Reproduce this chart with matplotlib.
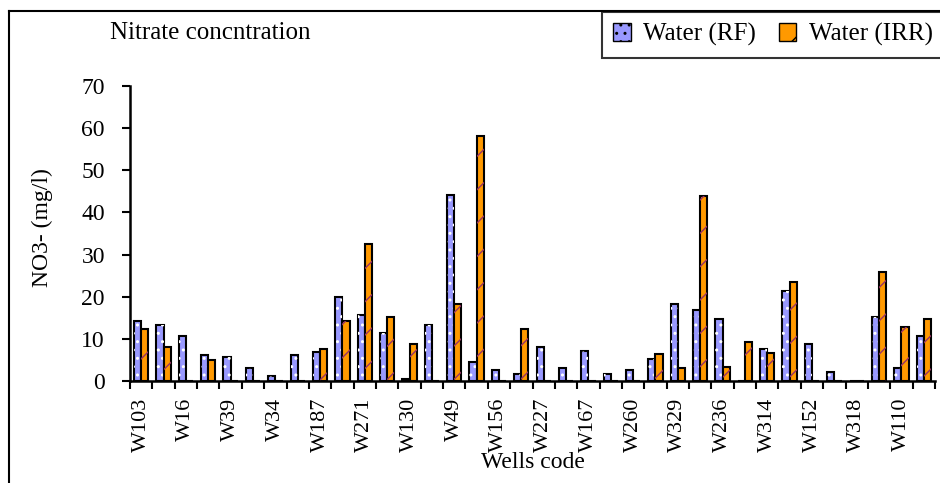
import numpy as np
import matplotlib
matplotlib.use("Agg")
import matplotlib.pyplot as plt
from matplotlib.lines import Line2D
from matplotlib.patches import Patch

# values (NO3- in mg/l), 36 wells, every second one labelled
wells = ["W103", "W16", "W39", "W34", "W187", "W271", "W130", "W49", "W156",
         "W227", "W167", "W260", "W329", "W236", "W314", "W152", "W318", "W110"]
water_rf = [14.2, 13.3, 10.7, 6.2, 5.6, 3.0, 1.2, 6.1, 6.9, 20.0, 15.6, 11.5,
            0.4, 13.3, 44.2, 4.4, 2.6, 1.7, 8.0, 3.1, 7.1, 1.7, 2.6, 5.3,
            18.2, 16.8, 14.6, 0.0, 7.5, 21.3, 8.8, 2.1, 0.0, 15.1, 3.0, 10.7]
water_irr = [12.3, 8.0, 0.0, 5.1, 0.0, 0.0, 0.0, 0.0, 7.5, 14.2, 32.6, 15.2,
             8.8, 0.0, 18.2, 58.1, 0.0, 12.4, 0.0, 0.0, 0.0, 0.0, 0.0, 6.5,
             3.0, 43.8, 3.4, 9.3, 6.7, 23.6, 0.0, 0.0, 0.0, 25.8, 12.9, 14.6]
yticks = [0, 10, 20, 30, 40, 50, 60, 70]

plt.rcParams['font.family'] = ['Liberation Serif', 'DejaVu Serif']
plt.rcParams['hatch.linewidth'] = 1.0

rf_color = '#9999ff'
irr_color = '#ff9900'
w = 0.32
fs = 17


def main():
    fig = plt.figure(figsize=(9.4, 4.83), dpi=100)
    ax = fig.add_axes([130 / 940, 102 / 483, 805 / 940, 295 / 483])

    x = np.arange(len(water_rf))
    ax.bar(x - w / 2, water_rf, w, color=rf_color, edgecolor='black', linewidth=1.5)
    ax.bar(x - w / 2, water_rf, w, facecolor='none', edgecolor='white',
           linewidth=0, hatch='..')
    ax.bar(x + w / 2, water_irr, w, color=irr_color, edgecolor='black', linewidth=1.5)
    ax.bar(x + w / 2, water_irr, w, facecolor='none', edgecolor='#993366',
           linewidth=0, hatch='/')

    ax.set_xlim(-0.5, len(water_rf) - 0.5)
    ax.set_ylim(0, 70)
    ax.set_yticks(yticks)
    ax.tick_params(axis='y', direction='out', length=6, width=1.5, pad=12,
                   labelsize=fs)

    ax.set_xticks(np.arange(0, len(water_rf), 2))
    ax.set_xticklabels(wells, rotation=90, fontsize=fs - 1)
    ax.set_xticks(np.arange(-0.5, len(water_rf), 1), minor=True)
    ax.tick_params(axis='x', which='major', length=0, pad=12)
    ax.tick_params(axis='x', which='minor', direction='out', length=6, width=1.5)

    for s in ['top', 'right']:
        ax.spines[s].set_visible(False)
    for s in ['left', 'bottom']:
        ax.spines[s].set_linewidth(1.8)

    fig.text(42 / 940, 1 - 228 / 483, 'NO3- (mg/l)', rotation=90,
             ha='center', va='center', fontsize=fs)
    fig.text(533 / 940, 1 - 462 / 483, 'Wells code', ha='center', va='center',
             fontsize=fs)
    fig.text(110 / 940, 1 - 33 / 483, 'Nitrate concntration', ha='left',
             va='center', fontsize=fs + 1)

    handles = [Patch(facecolor=rf_color, edgecolor='black', hatch='..'),
               Patch(facecolor=irr_color, edgecolor='black', hatch='/')]
    leg = fig.legend(handles, ['Water (RF)', 'Water (IRR)'], ncol=2,
                     loc='upper right', bbox_to_anchor=(1.004, 1 - 12 / 483),
                     fontsize=fs + 1, frameon=True, fancybox=False,
                     handlelength=0.7, handleheight=0.7, handletextpad=0.5,
                     columnspacing=0.9, borderpad=0.45, borderaxespad=0)
    leg.get_frame().set_edgecolor('black')
    leg.get_frame().set_linewidth(1.5)

    # outer chart frame (cut at right and bottom in the reference)
    fig.add_artist(Line2D([9 / 940, 1], [1 - 11 / 483] * 2, color='black', lw=1.5))
    fig.add_artist(Line2D([9 / 940] * 2, [0, 1 - 11 / 483], color='black', lw=1.5))

    fig.savefig('out.png', dpi=100)


if __name__ == '__main__':
    main()
